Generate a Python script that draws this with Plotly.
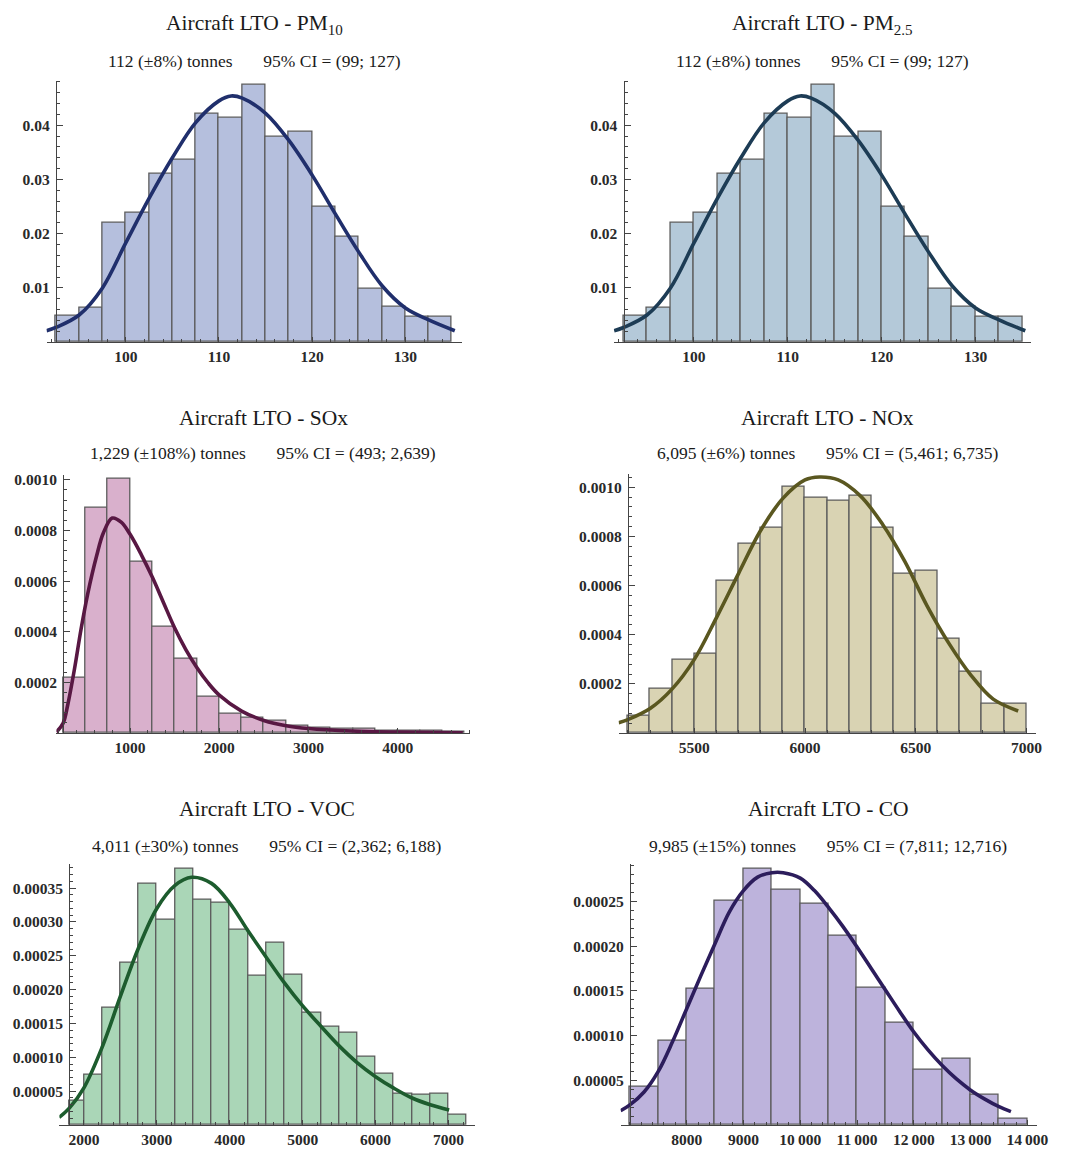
import plotly.graph_objects as go

FIG_W, FIG_H = 1081, 1152
SERIF = "Liberation Serif"

# ---------------- PM10 and PM2.5 (same distribution) ----------------
pm_bin_edges = [92.5, 95.0, 97.5, 100.0, 102.5, 105.0, 107.5, 110.0, 112.5,
                115.0, 117.5, 120.0, 122.5, 125.0, 127.5, 130.0, 132.5, 135.0]
pm_density = [0.0049, 0.0064, 0.0220, 0.0239, 0.0311, 0.0336, 0.0421, 0.0413,
              0.0474, 0.0379, 0.0388, 0.0250, 0.0194, 0.0099, 0.0066, 0.0046, 0.0046]
pm_fit_x = [91.5, 92.5, 95.0, 97.5, 100.0, 102.5, 105.0, 107.5, 110.0, 111.3,
            112.5, 115.0, 117.5, 120.0, 122.5, 125.0, 127.5, 130.0, 132.5, 135.3]
pm_fit_y = [0.0021, 0.0027, 0.0050, 0.0100, 0.0183, 0.0265, 0.0340, 0.0405, 0.0445, 0.0454,
            0.0450, 0.0422, 0.0372, 0.0308, 0.0236, 0.0166, 0.0104, 0.0063, 0.0041, 0.0021]
pm_xtick_vals = [100, 110, 120, 130]
pm_xtick_text = ["100", "110", "120", "130"]
pm_ytick_vals = [0.01, 0.02, 0.03, 0.04]

# ---------------- SOx ----------------
sox_bin_edges = [250, 500, 750, 1000, 1250, 1500, 1750, 2000, 2250, 2500,
                 2750, 3000, 3250, 3500, 3750, 4000, 4250, 4500, 4750]
sox_density = [0.000219, 0.000889, 0.001005, 0.000678, 0.000418, 0.000295,
               0.000144, 0.000075, 0.000059, 0.000048, 0.000030, 0.000022,
               0.000017, 0.000017, 0.000010, 0.000008, 0.000008, 0.000005]
sox_fit_x = [174, 250, 300, 375, 450, 525, 625, 700, 800, 900, 1000, 1125, 1250, 1375,
             1500, 1625, 1750, 1875, 2000, 2250, 2500, 2750, 3000, 3500, 4000, 4730]
sox_fit_y = [0.000004, 0.000040, 0.000110, 0.000250, 0.000410, 0.000550, 0.000700,
             0.000790, 0.000849, 0.000833, 0.000785, 0.000705, 0.000615, 0.000515,
             0.000415, 0.000330, 0.000258, 0.000198, 0.000150, 0.000087, 0.000050,
             0.000029, 0.000018, 0.000008, 0.000004, 0.000001]
sox_xtick_vals = [1000, 2000, 3000, 4000]
sox_xtick_text = ["1000", "2000", "3000", "4000"]
sox_ytick_vals = [0.0002, 0.0004, 0.0006, 0.0008, 0.0010]

# ---------------- NOx ----------------
nox_bin_edges = [5200, 5300, 5400, 5500, 5600, 5700, 5800, 5900, 6000, 6100,
                 6200, 6300, 6400, 6500, 6600, 6700, 6800, 6900, 7000]
nox_density = [0.000070, 0.000182, 0.000297, 0.000322, 0.000620, 0.000770,
               0.000834, 0.001003, 0.000957, 0.000946, 0.000964, 0.000834,
               0.000649, 0.000659, 0.000382, 0.000250, 0.000119, 0.000119]
nox_fit_x = [5158, 5200, 5300, 5400, 5500, 5600, 5700, 5800, 5900, 6000, 6065,
             6150, 6250, 6350, 6450, 6550, 6650, 6750, 6850, 6963]
nox_fit_y = [0.000042, 0.000055, 0.000100, 0.000180, 0.000300, 0.000470, 0.000650,
             0.000825, 0.000955, 0.001030, 0.001042, 0.001030, 0.000965, 0.000850,
             0.000700, 0.000520, 0.000365, 0.000235, 0.000138, 0.000090]
nox_xtick_vals = [5500, 6000, 6500, 7000]
nox_xtick_text = ["5500", "6000", "6500", "7000"]
nox_ytick_vals = [0.0002, 0.0004, 0.0006, 0.0008, 0.0010]

# ---------------- VOC ----------------
voc_bin_edges = [1800, 2000, 2250, 2500, 2750, 3000, 3250, 3500, 3750, 4000, 4250, 4500,
                 4750, 5000, 5250, 5500, 5750, 6000, 6250, 6500, 6750, 7000, 7250]
voc_density = [0.0000358, 0.0000736, 0.000174, 0.000240, 0.000356, 0.000304,
               0.000378, 0.000333, 0.000329, 0.000289, 0.000220, 0.000270,
               0.000222, 0.000166, 0.000145, 0.000137, 0.000101, 0.0000760,
               0.0000466, 0.0000442, 0.0000466, 0.0000147]
voc_fit_x = [1661, 1800, 2000, 2250, 2500, 2750, 3000, 3250, 3475, 3750, 4000, 4250,
             4500, 4750, 5000, 5250, 5500, 5750, 6000, 6250, 6500, 6750, 7009]
voc_fit_y = [0.0000113, 0.0000250, 0.0000550, 0.000115, 0.000190, 0.000262, 0.000320,
             0.000354, 0.000366, 0.000357, 0.000328, 0.000287, 0.000248, 0.000210,
             0.000176, 0.000146, 0.000117, 0.0000920, 0.0000715, 0.0000545, 0.0000400,
             0.0000300, 0.0000221]
voc_xtick_vals = [2000, 3000, 4000, 5000, 6000, 7000]
voc_xtick_text = ["2000", "3000", "4000", "5000", "6000", "7000"]
voc_ytick_vals = [0.00005, 0.00010, 0.00015, 0.00020, 0.00025, 0.00030, 0.00035]

# ---------------- CO ----------------
co_bin_edges = [7000, 7500, 8000, 8500, 9000, 9500, 10000, 10500,
                11000, 11500, 12000, 12500, 13000, 13500, 14000]
co_density = [0.0000427, 0.0000947, 0.000152, 0.000251, 0.000286, 0.000263, 0.000247,
              0.000212, 0.000153, 0.000114, 0.0000620, 0.0000743, 0.0000342, 0.0000067]
co_fit_x = [6837, 7000, 7250, 7500, 7750, 8000, 8250, 8500, 8750, 9000, 9250, 9500,
            9700, 10000, 10250, 10500, 10750, 11000, 11250, 11500, 11750, 12000,
            12250, 12500, 12750, 13000, 13250, 13500, 13710]
co_fit_y = [0.0000160, 0.0000225, 0.0000370, 0.0000600, 0.0000930, 0.000130, 0.000167,
            0.000203, 0.000238, 0.000262, 0.000277, 0.000282, 0.000282, 0.000276,
            0.000262, 0.000243, 0.000222, 0.000199, 0.000175, 0.000151, 0.000127,
            0.000104, 0.0000840, 0.0000665, 0.0000515, 0.0000390, 0.0000290,
            0.0000205, 0.0000150]
co_xtick_vals = [8000, 9000, 10000, 11000, 12000, 13000, 14000]
co_xtick_text = ["8000", "9000", "10\u2009000", "11\u2009000", "12\u2009000",
                 "13\u2009000", "14\u2009000"]
co_ytick_vals = [0.00005, 0.00010, 0.00015, 0.00020, 0.00025]

GAP = "\u00a0" * 7

panels = [
    dict(title="Aircraft LTO - PM<sub>10</sub>",
         subtitle="112 (±8%) tonnes" + GAP + "95% CI = (99; 127)",
         edges=pm_bin_edges, dens=pm_density, fx=pm_fit_x, fy=pm_fit_y,
         xtv=pm_xtick_vals, xtt=pm_xtick_text, ytv=pm_ytick_vals, yfmt=".2f",
         ymin=0.002, xmin=2, fill="#b5bfdd", line="#202f6c",
         box=(47, 467, 78, 340), xr=(91.5, 136.1), yr=(0, 0.0482), tx=257, ty=(22, 58)),
    dict(title="Aircraft LTO - PM<sub>2.5</sub>",
         subtitle="112 (±8%) tonnes" + GAP + "95% CI = (99; 127)",
         edges=pm_bin_edges, dens=pm_density, fx=pm_fit_x, fy=pm_fit_y,
         xtv=pm_xtick_vals, xtt=pm_xtick_text, ytv=pm_ytick_vals, yfmt=".2f",
         ymin=0.002, xmin=2, fill="#b4c9d9", line="#1d3c55",
         box=(620, 1042, 78, 340), xr=(91.45, 135.95), yr=(0, 0.0482), tx=831, ty=(22, 58)),
    dict(title="Aircraft LTO - SOx",
         subtitle="1,229 (±108%) tonnes" + GAP + "95% CI = (493; 2,639)",
         edges=sox_bin_edges, dens=sox_density, fx=sox_fit_x, fy=sox_fit_y,
         xtv=sox_xtick_vals, xtt=sox_xtick_text, ytv=sox_ytick_vals, yfmt=".4f",
         ymin=0.00004, xmin=200, fill="#d9b0cc", line="#581843",
         box=(57, 475, 473, 732), xr=(174, 4813), yr=(0, 0.00102), tx=266, ty=(416, 451)),
    dict(title="Aircraft LTO - NOx",
         subtitle="6,095 (±6%) tonnes" + GAP + "95% CI = (5,461; 6,735)",
         edges=nox_bin_edges, dens=nox_density, fx=nox_fit_x, fy=nox_fit_y,
         xtv=nox_xtick_vals, xtt=nox_xtick_text, ytv=nox_ytick_vals, yfmt=".4f",
         ymin=0.00004, xmin=100, fill="#d9d3b3", line="#5a5720",
         box=(625, 1047, 472, 732), xr=(5158, 7045), yr=(0, 0.001055), tx=836, ty=(416, 451)),
    dict(title="Aircraft LTO - VOC",
         subtitle="4,011 (±30%) tonnes" + GAP + "95% CI = (2,362; 6,188)",
         edges=voc_bin_edges, dens=voc_density, fx=voc_fit_x, fy=voc_fit_y,
         xtv=voc_xtick_vals, xtt=voc_xtick_text, ytv=voc_ytick_vals, yfmt=".5f",
         ymin=0.00001, xmin=200, fill="#aad6b7", line="#1d5c2e",
         box=(60, 480, 863, 1125), xr=(1664, 7365), yr=(0, 0.000386), tx=270, ty=(808, 845)),
    dict(title="Aircraft LTO - CO",
         subtitle="9,985 (±15%) tonnes" + GAP + "95% CI = (7,811; 12,716)",
         edges=co_bin_edges, dens=co_density, fx=co_fit_x, fy=co_fit_y,
         xtv=co_xtick_vals, xtt=co_xtick_text, ytv=co_ytick_vals, yfmt=".5f",
         ymin=0.00001, xmin=200, fill="#bdb3dc", line="#2c1d5c",
         box=(627, 1048, 863, 1125), xr=(6837, 14175), yr=(0, 0.000292), tx=837, ty=(808, 845)),
]

AXIS_COLOR = "#444444"
TICK_FONT = dict(family=SERIF, size=15.5, color="#2a2a2a", weight="bold")

fig = go.Figure()
layout = dict(
    width=FIG_W, height=FIG_H,
    margin=dict(l=0, r=0, t=0, b=0),
    paper_bgcolor="white", plot_bgcolor="rgba(0,0,0,0)",
    showlegend=False, bargap=0,
    annotations=[],
)

for i, p in enumerate(panels, start=1):
    xa = "x" if i == 1 else f"x{i}"
    ya = "y" if i == 1 else f"y{i}"
    edges = p["edges"]
    centers = [(a + b) / 2 for a, b in zip(edges[:-1], edges[1:])]
    widths = [b - a for a, b in zip(edges[:-1], edges[1:])]

    fig.add_trace(go.Bar(
        x=centers, y=p["dens"], width=widths, xaxis=xa, yaxis=ya,
        marker=dict(color=p["fill"], line=dict(color="#5c5c5c", width=1.3)),
        hoverinfo="skip",
    ))
    fig.add_trace(go.Scatter(
        x=p["fx"], y=p["fy"], mode="lines", xaxis=xa, yaxis=ya,
        line=dict(color=p["line"], width=3.6, shape="spline", smoothing=1.0),
        hoverinfo="skip",
    ))

    x0, x1, y0, y1 = p["box"]
    dom_x = [x0 / FIG_W, x1 / FIG_W]
    dom_y = [1 - y1 / FIG_H, 1 - y0 / FIG_H]
    r0, r1 = p["xr"]
    # vertical axis sits on the left edge of the first bin
    ypos = dom_x[0] + (edges[0] - r0) / (r1 - r0) * (dom_x[1] - dom_x[0])

    layout["xaxis" if i == 1 else f"xaxis{i}"] = dict(
        domain=dom_x, range=list(p["xr"]), anchor=ya,
        showline=True, linecolor=AXIS_COLOR, linewidth=1.2,
        showgrid=False, zeroline=False,
        tickmode="array", tickvals=p["xtv"], ticktext=p["xtt"],
        ticks="inside", ticklen=5, tickcolor=AXIS_COLOR, tickwidth=1,
        minor=dict(ticks="inside", ticklen=3, tickcolor=AXIS_COLOR,
                   tickmode="linear", tick0=0, dtick=p["xmin"], showgrid=False),
        tickfont=TICK_FONT, ticklabelstandoff=0,
    )
    layout["yaxis" if i == 1 else f"yaxis{i}"] = dict(
        domain=dom_y, range=list(p["yr"]), anchor="free", position=ypos,
        showline=True, linecolor=AXIS_COLOR, linewidth=1.2,
        showgrid=False, zeroline=False,
        tickmode="array", tickvals=p["ytv"], tickformat=p["yfmt"],
        ticks="inside", ticklen=6, tickcolor=AXIS_COLOR, tickwidth=1,
        minor=dict(ticks="inside", ticklen=3, tickcolor=AXIS_COLOR,
                   tickmode="linear", tick0=0, dtick=p["ymin"], showgrid=False),
        tickfont=TICK_FONT, ticklabelstandoff=3,
    )

    layout["annotations"].append(dict(
        text=p["title"], xref="paper", yref="paper",
        x=p["tx"] / FIG_W, y=1 - p["ty"][0] / FIG_H,
        xanchor="center", yanchor="middle", showarrow=False,
        font=dict(family=SERIF, size=21.5, color="#1a1a1a"),
    ))
    layout["annotations"].append(dict(
        text=p["subtitle"], xref="paper", yref="paper",
        x=p["tx"] / FIG_W, y=1 - p["ty"][1] / FIG_H,
        xanchor="center", yanchor="middle", showarrow=False,
        font=dict(family=SERIF, size=17.5, color="#1a1a1a"),
    ))

fig.update_layout(**layout)
fig.write_html("out.html")
